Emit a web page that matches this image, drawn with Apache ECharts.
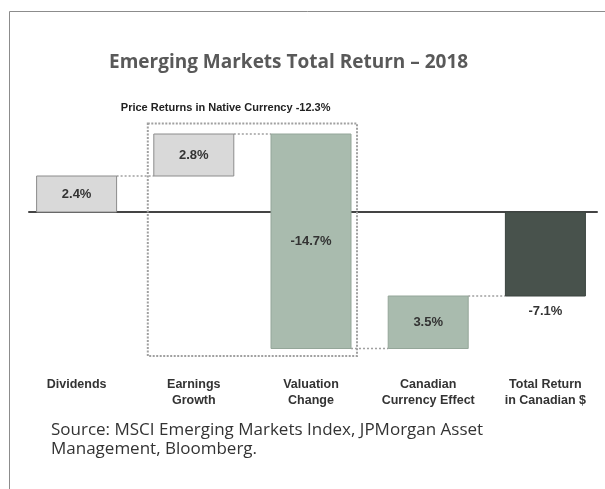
<!DOCTYPE html>
<html>
<head>
<meta charset="utf-8">
<script src="https://cdn.jsdelivr.net/npm/echarts@6/dist/echarts.min.js"></script>
<style>
  html, body { margin: 0; padding: 0; background: #fff; }
  #main { width: 605px; height: 489px; }
</style>
</head>
<body>
<div id="main"></div>
<script>
// data (% units, bar start / end as drawn)
var categories = ['Dividends', 'Earnings\nGrowth', 'Valuation\nChange', 'Canadian\nCurrency Effect', 'Total Return\nin Canadian $'];
var barStart = [0, 2.4, 5.2, -9.1, 0];
var barEnd = [2.4, 5.2, -9.1, -5.6, -5.6];
var barLabels = ['2.4%', '2.8%', '-14.7%', '3.5%', '-7.1%'];
// bracket round the price-return bars: first bar, last bar, top, bottom
var bracketRange = [1, 2, 5.9, -9.6];
var bracketLabel = 'Price Returns in Native Currency -12.3%';
var yRange = [-10, 6];

var barColors = ['#d9d9d9', '#d9d9d9', '#a9bbae', '#a9bbae', '#48524c'];
var borderColors = ['#8c8c8c', '#8c8c8c', '#94a699', '#94a699', '#3a433e'];
var condFont = '"Liberation Sans", Arial, sans-serif';

var myChart = echarts.init(document.getElementById('main'));

var barData = categories.map(function (c, i) {
  return [i, barStart[i], barEnd[i]];
});

function renderBar(params, api) {
  var i = api.value(0);
  var p0 = api.coord([i, api.value(1)]);
  var p1 = api.coord([i, api.value(2)]);
  var w = 80;
  var top = Math.min(p0[1], p1[1]);
  var h = Math.abs(p0[1] - p1[1]);
  var last = i === categories.length - 1;
  var children = [];
  if (!last) {
    // dotted connector to the next bar
    var next = api.coord([i + 1, api.value(2)]);
    children.push({
      type: 'line',
      shape: { x1: p0[0] + w / 2, y1: p1[1], x2: next[0] - w / 2, y2: p1[1] },
      style: { stroke: '#a0a0a0', lineWidth: 1.5, lineDash: [2, 2] }
    });
  }
  children.push({
    type: 'rect',
    shape: { x: p0[0] - w / 2, y: top, width: w, height: h },
    style: { fill: barColors[i], stroke: borderColors[i], lineWidth: 1 }
  });
  children.push({
    type: 'text',
    style: {
      text: barLabels[i],
      x: p0[0],
      y: last ? top + h + 15 : top + h / 2,
      align: 'center',
      verticalAlign: 'middle',
      font: 'bold 13px ' + condFont,
      fill: '#333'
    }
  });
  return { type: 'group', children: children };
}

function renderBracket(params, api) {
  var a = api.coord([api.value(0), api.value(2)]);
  var b = api.coord([api.value(1), api.value(3)]);
  var pad = 46;
  return {
    type: 'group',
    children: [
      {
        type: 'rect',
        shape: { x: a[0] - pad, y: a[1], width: b[0] - a[0] + 2 * pad, height: b[1] - a[1] },
        style: { fill: 'none', stroke: '#a0a0a0', lineWidth: 2, lineDash: [2, 1.5] }
      },
      {
        type: 'text',
        style: {
          text: bracketLabel,
          x: a[0] - pad - 27,
          y: a[1] - 16,
          align: 'left',
          verticalAlign: 'middle',
          font: 'bold 11px ' + condFont,
          fill: '#222'
        }
      }
    ]
  };
}

var option = {
  animation: false,
  backgroundColor: '#fff',
  title: {
    text: 'Emerging Markets Total Return \u2013 2018',
    left: 104,
    top: 48,
    textStyle: { fontFamily: 'Open Sans', fontSize: 19, fontWeight: 'bold', color: '#595959' }
  },
  graphic: [
    {
      type: 'rect',
      shape: { x: 9.5, y: 11.5, width: 700, height: 600 },
      style: { fill: 'none', stroke: '#8c8c8c', lineWidth: 1 },
      silent: true
    },
    {
      type: 'text',
      left: 51,
      top: 421,
      style: {
        text: 'Source: MSCI Emerging Markets Index, JPMorgan Asset\nManagement, Bloomberg.',
        font: '17px "Open Sans"',
        fill: '#333',
        lineHeight: 19
      }
    }
  ],
  grid: [
    { left: 18, right: 1, top: 122, height: 240 },
    { left: 29, right: 8, top: 122, height: 240 }
  ],
  xAxis: [
    {
      type: 'category',
      gridIndex: 0,
      data: categories,
      axisLine: { show: false },
      axisTick: { show: false },
      axisLabel: {
        interval: 0,
        margin: 15,
        lineHeight: 16,
        fontFamily: condFont,
        fontWeight: 'bold',
        fontSize: 12.5,
        color: '#333'
      }
    },
    {
      type: 'value',
      gridIndex: 1,
      min: 0,
      max: 1,
      axisLine: { show: true, onZero: true, lineStyle: { color: '#444', width: 2 } },
      axisTick: { show: false },
      axisLabel: { show: false },
      splitLine: { show: false }
    }
  ],
  yAxis: [
    { type: 'value', gridIndex: 0, min: yRange[0], max: yRange[1], show: false },
    { type: 'value', gridIndex: 1, min: yRange[0], max: yRange[1], show: false }
  ],
  series: [
    {
      type: 'custom',
      name: 'bracket',
      xAxisIndex: 0,
      yAxisIndex: 0,
      z: 1,
      renderItem: renderBracket,
      data: [bracketRange]
    },
    {
      type: 'custom',
      name: 'waterfall',
      xAxisIndex: 0,
      yAxisIndex: 0,
      z: 3,
      renderItem: renderBar,
      data: barData
    }
  ]
};

myChart.setOption(option);
</script>
</body>
</html>
